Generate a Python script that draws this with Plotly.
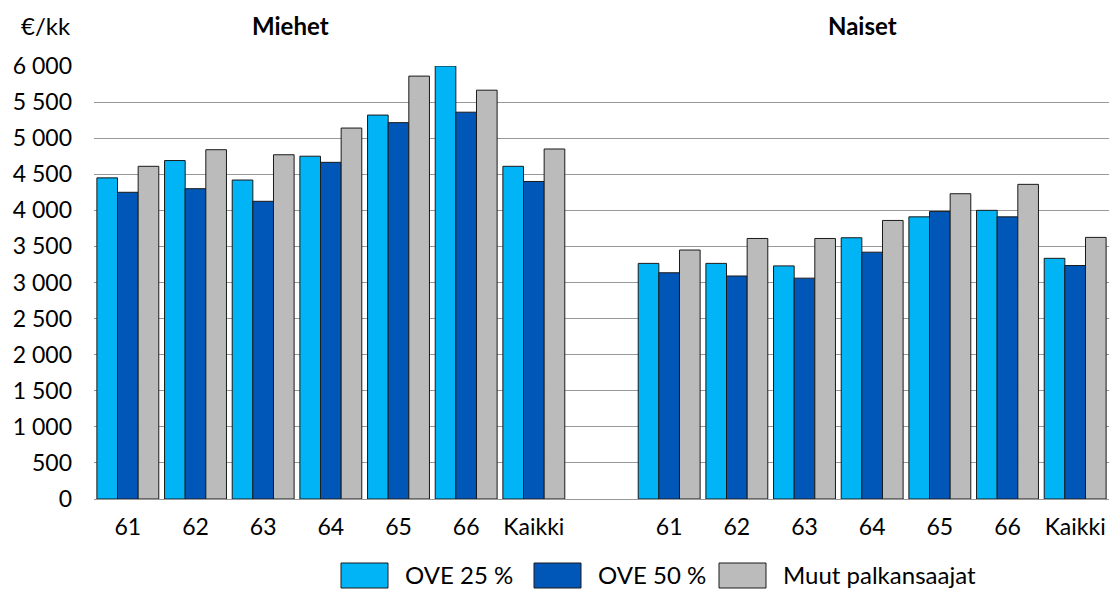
import plotly.graph_objects as go

groups = ["Miehet", "Naiset"]
ages = ["61", "62", "63", "64", "65", "66", "Kaikki"]
series_names = ["OVE 25 %", "OVE 50 %", "Muut palkansaajat"]
colors = ["#00B4F5", "#0057B7", "#BBBBBB"]

men_ove25 = [4450, 4690, 4420, 4750, 5320, 6000, 4610]
men_ove50 = [4250, 4300, 4125, 4665, 5215, 5360, 4400]
men_muut = [4610, 4840, 4770, 5140, 5860, 5665, 4850]

women_ove25 = [3265, 3265, 3230, 3620, 3910, 4000, 3335]
women_ove50 = [3135, 3090, 3060, 3420, 3985, 3910, 3235]
women_muut = [3450, 3610, 3610, 3860, 4230, 4360, 3625]

y_ticks = list(range(0, 6001, 500))
y_ticktext = [f"{v:,}".replace(",", " ") for v in y_ticks]

FONT = "Lato"
W, H = 1109, 590
ML, MR, MT, MB = 94, 0, 66, 91
PW, PH = W - ML - MR, H - MT - MB


def px_x(px):
    return (px - ML) / PW


def px_y(py):
    return (H - MB - py) / PH


# positions: men group, one empty slot, women group
n = len(ages)
pos_men = list(range(n))
pos_women = [n + 1 + i for i in range(n)]
positions = pos_men + pos_women
ticktext = ages + ages

series_values = [
    men_ove25 + women_ove25,
    men_ove50 + women_ove50,
    men_muut + women_muut,
]

fig = go.Figure()
for name, col, vals in zip(series_names, colors, series_values):
    fig.add_trace(go.Bar(
        x=positions, y=vals, name=name,
        marker=dict(color=col, line=dict(color="#1a1a1a", width=1)),
        hoverinfo="y+name",
    ))

fig.update_layout(
    width=W, height=H,
    margin=dict(l=ML, r=MR, t=MT, b=MB, pad=0),
    barmode="group", bargap=0.085, bargroupgap=0,
    plot_bgcolor="white", paper_bgcolor="white",
    font=dict(family=FONT, size=23, color="#000000"),
    showlegend=False,
    xaxis=dict(
        range=[-0.5, 2 * n + 0.5],
        tickmode="array", tickvals=positions, ticktext=ticktext,
        showgrid=False, zeroline=False, showline=False,
        ticks="", tickfont=dict(size=23), ticklabelstandoff=12,
    ),
    yaxis=dict(
        range=[0, 6000], tickmode="array", tickvals=y_ticks, ticktext=y_ticktext,
        showgrid=True, gridcolor="#999999", gridwidth=1,
        zeroline=True, zerolinecolor="#999999", zerolinewidth=1,
        showline=False, ticks="", ticklabelstandoff=21,
        tickfont=dict(size=23),
    ),
)

title_y = px_y(26)
fig.add_annotation(text="<b>" + groups[0] + "</b>", x=2.4, xref="x", y=title_y, yref="paper",
                   showarrow=False, font=dict(size=24), xanchor="center", yanchor="middle")
fig.add_annotation(text="<b>" + groups[1] + "</b>", x=10.86, xref="x", y=title_y, yref="paper",
                   showarrow=False, font=dict(size=24), xanchor="center", yanchor="middle")
fig.add_annotation(text="€/kk", x=px_x(73), xref="paper", y=title_y, yref="paper",
                   showarrow=False, font=dict(size=24), xanchor="right", yanchor="middle")

# legend drawn as layout shapes + text (large swatches as in the reference)
legend_swatch_left = [341, 534, 719]
sw_w, sw_top, sw_bot = 47, 563, 588
for name, col, lx in zip(series_names, colors, legend_swatch_left):
    fig.add_shape(type="rect", xref="paper", yref="paper",
                  x0=px_x(lx), x1=px_x(lx + sw_w), y0=px_y(sw_bot), y1=px_y(sw_top),
                  fillcolor=col, line=dict(color="#1a1a1a", width=1))
    fig.add_annotation(text=name, x=px_x(lx + sw_w + 15), xref="paper",
                       y=px_y(574), yref="paper",
                       showarrow=False, font=dict(size=24), xanchor="left", yanchor="middle")

fig.write_html("out.html", config={"displayModeBar": False},
               post_script="document.body.style.margin='0px';")
